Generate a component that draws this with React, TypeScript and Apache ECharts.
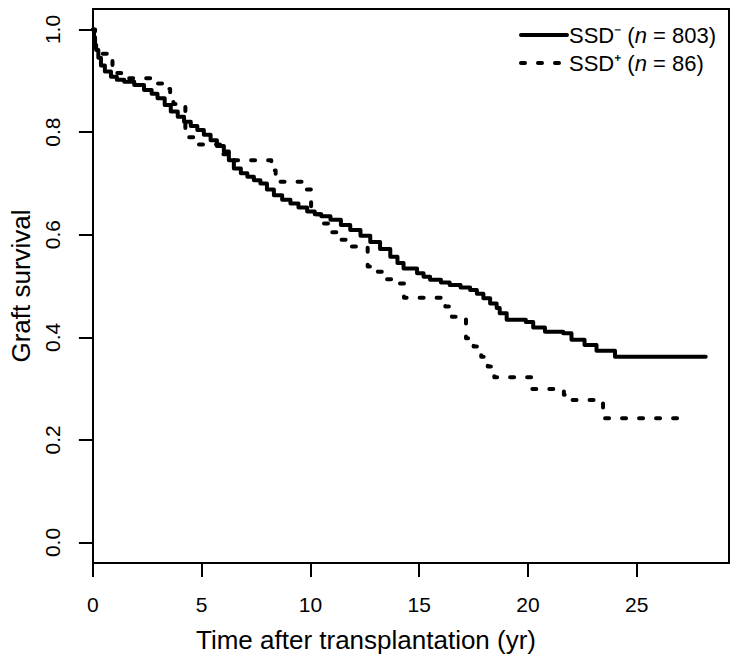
import React, { useEffect, useRef } from "react";
import * as echarts from "echarts";

// SSD- (n = 803): Kaplan–Meier steps (time in years, survival)
const ssdNegTime = [0, 0.05, 0.1, 0.15, 0.25, 0.37, 0.55, 0.83, 1.1, 1.44, 1.9, 2.35, 2.7, 2.97, 3.3, 3.58, 3.9, 4.19, 4.5, 4.8, 5.1, 5.41, 5.7, 6.02, 6.25, 6.48, 6.8, 7.1, 7.4, 7.7, 8.0, 8.32, 8.7, 9.08, 9.45, 9.85, 10.2, 10.5, 10.92, 11.4, 11.83, 12.3, 12.75, 13.2, 13.67, 14.0, 14.28, 14.9, 15.2, 15.5, 16.0, 16.4, 16.9, 17.34, 17.65, 17.95, 18.26, 18.56, 18.7, 19.02, 19.9, 20.24, 20.78, 21.62, 22.0, 22.6, 23.15, 24.0, 28.17];
const ssdNegSurv = [1.0, 0.985, 0.97, 0.96, 0.945, 0.93, 0.918, 0.908, 0.902, 0.898, 0.892, 0.882, 0.875, 0.866, 0.853, 0.84, 0.83, 0.82, 0.812, 0.804, 0.795, 0.784, 0.773, 0.762, 0.745, 0.729, 0.72, 0.713, 0.706, 0.7, 0.688, 0.677, 0.668, 0.661, 0.653, 0.645, 0.64, 0.636, 0.629, 0.619, 0.609, 0.598, 0.586, 0.572, 0.557, 0.545, 0.534, 0.525, 0.518, 0.512, 0.507, 0.502, 0.497, 0.492, 0.485, 0.476, 0.466, 0.457, 0.447, 0.434, 0.43, 0.419, 0.411, 0.408, 0.395, 0.385, 0.374, 0.362, 0.362];

// SSD+ (n = 86)
const ssdPosTime = [0, 0.1, 0.3, 0.9, 1.1, 1.3, 2.95, 3.3, 3.55, 3.7, 4.25, 4.8, 6.0, 6.5, 8.2, 8.4, 9.7, 10.03, 10.5, 10.9, 11.4, 11.9, 12.63, 13.1, 13.5, 13.9, 14.3, 16.2, 16.5, 17.15, 17.5, 17.85, 18.15, 18.45, 20.15, 21.65, 21.85, 23.45, 27.06];
const ssdPosSurv = [1.0, 0.965, 0.953, 0.93, 0.915, 0.905, 0.895, 0.884, 0.87, 0.855, 0.79, 0.776, 0.757, 0.745, 0.725, 0.703, 0.688, 0.64, 0.622, 0.605, 0.59, 0.577, 0.538, 0.528, 0.513, 0.505, 0.477, 0.46, 0.44, 0.398, 0.382, 0.362, 0.343, 0.322, 0.299, 0.288, 0.278, 0.242, 0.242];

const xTicks = [0, 5, 10, 15, 20, 25];
const yTicks = [0, 0.2, 0.4, 0.6, 0.8, 1.0];

const seriesNames = ["SSD\u207B (n = 803)", "SSD\u207A (n = 86)"];
const FONT = "'Liberation Sans', Arial, Helvetica, sans-serif";

const X_MIN = 0;
const X_MAX = 29.24;
const Y_MIN = -0.04;
const Y_MAX = 1.04;

export default function App() {
  const ref = useRef<HTMLDivElement>(null);
  useEffect(() => {
    if (!ref.current) return;
    const chart = echarts.init(ref.current, null, { renderer: "svg" });
    const negData = ssdNegTime.map((t, i) => [t, ssdNegSurv[i]]);
    const posData = ssdPosTime.map((t, i) => [t, ssdPosSurv[i]]);
    const lineAx = { show: true, onZero: false, lineStyle: { color: "#000", width: 2 } };
    chart.setOption({
      animation: false,
      backgroundColor: "#fff",
      textStyle: { fontFamily: FONT, color: "#000" },
      grid: {
        left: 92,
        right: 8,
        top: 9,
        bottom: 97,
        show: false,
      },
      legend: {
        orient: "vertical",
        right: 16,
        top: 19,
        itemWidth: 46,
        itemHeight: 14,
        itemGap: 6,
        align: "left",
        selectedMode: false,
        data: seriesNames,
        itemStyle: { opacity: 0 },
        lineStyle: { width: 4, color: "#000", cap: "round" },
        formatter: (name: string) => {
          const m = name.match(/^(.*\()n( = .*)$/);
          if (!m) return name;
          return `{a|${m[1]}}{i|n}{a|${m[2]}}`;
        },
        textStyle: {
          fontFamily: FONT,
          fontSize: 22,
          color: "#000",
          padding: [0, 0, 0, -3],
          rich: {
            a: { fontFamily: FONT, fontSize: 22, color: "#000" },
            i: { fontFamily: FONT, fontSize: 22, color: "#000", fontStyle: "italic" },
          },
        },
      },
      xAxis: [
        {
          type: "value",
          position: "bottom",
          min: X_MIN,
          max: X_MAX,
          axisLine: lineAx,
          splitLine: { show: false },
          axisTick: {
            show: true,
            inside: false,
            length: 14,
            customValues: xTicks,
            lineStyle: { color: "#000", width: 2 },
          },
          axisLabel: {
            customValues: xTicks,
            fontSize: 21,
            color: "#000",
            fontFamily: FONT,
            margin: 31,
            formatter: (v: number) => String(v),
          },
        },
        {
          type: "value",
          position: "top",
          min: X_MIN,
          max: X_MAX,
          axisLine: lineAx,
          splitLine: { show: false },
          axisTick: { show: false },
          axisLabel: { show: false },
        },
      ],
      yAxis: [
        {
          type: "value",
          position: "left",
          min: Y_MIN,
          max: Y_MAX,
          name: "Graft survival",
          nameLocation: "middle",
          nameGap: 57,
          nameTextStyle: { fontSize: 26, color: "#000", fontFamily: FONT },
          axisLine: lineAx,
          splitLine: { show: false },
          axisTick: {
            show: true,
            inside: false,
            length: 14,
            customValues: yTicks,
            lineStyle: { color: "#000", width: 2 },
          },
          axisLabel: {
            customValues: yTicks,
            rotate: 90,
            fontSize: 21,
            color: "#000",
            fontFamily: FONT,
            margin: 30,
            formatter: (v: number) => v.toFixed(1),
          },
        },
        {
          type: "value",
          position: "right",
          min: Y_MIN,
          max: Y_MAX,
          axisLine: lineAx,
          splitLine: { show: false },
          axisTick: { show: false },
          axisLabel: { show: false },
        },
      ],
      graphic: [
        {
          type: "text",
          x: 366,
          y: 640,
          style: {
            text: "Time after transplantation (yr)",
            font: `26px ${FONT}`,
            fill: "#000",
            textAlign: "center",
            textVerticalAlign: "middle",
          },
        },
      ],
      series: [
        {
          name: seriesNames[0],
          type: "line",
          step: "end",
          data: negData,
          showSymbol: false,
          symbol: "none",
          lineStyle: { color: "#000", width: 4, cap: "round", join: "round" },
          itemStyle: { color: "#000" },
        },
        {
          name: seriesNames[1],
          type: "line",
          step: "end",
          data: posData,
          showSymbol: false,
          symbol: "none",
          lineStyle: { color: "#000", width: 4, type: [4, 13], cap: "round", join: "round" },
          itemStyle: { color: "#000" },
        },
      ],
    });
    return () => chart.dispose();
  }, []);
  return (
    <div
      ref={ref}
      style={{ position: "absolute", left: 0, top: 0, width: 737, height: 660 }}
    />
  );
}
